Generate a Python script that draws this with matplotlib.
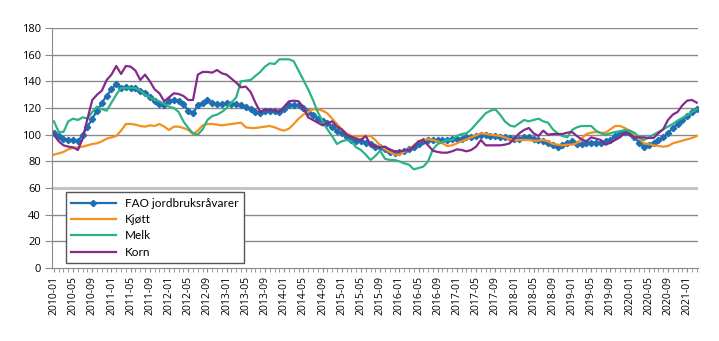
import numpy as np
import matplotlib
matplotlib.use("Agg")
import matplotlib.pyplot as plt

plt.rcParams['font.family'] = ['Open Sans', 'DejaVu Sans']

# monthly index values, 2010-01 .. 2021-03
fao = [101, 99, 97, 96, 96, 95, 100, 106, 112, 118, 124, 129, 134, 138, 135, 136, 135, 135, 133, 131,
       128, 125, 123, 122, 125, 126, 125, 123, 118, 116, 122, 124, 126, 124, 123, 123, 124, 123, 123, 122,
       121, 119, 117, 116, 118, 118, 118, 117, 119, 122, 122, 122, 120, 117, 115, 112, 110, 108.5, 106, 103,
       101, 98, 96, 95, 95, 94, 93, 90.5, 91, 89, 87, 86, 87, 88, 89, 91, 93, 95, 96, 96,
       96, 96, 96, 96.5, 97, 97, 98, 98, 99, 100, 100, 99, 99, 98.5, 98, 97.5, 97, 97, 98, 98,
       97, 96, 95, 93.5, 92.5, 91, 92, 93.5, 95, 93, 93, 94, 94, 94, 94, 95, 96, 99, 101, 102,
       101, 98, 94, 91, 92, 94, 96, 98, 101, 105, 108, 111, 114, 117, 119]
kjott = [85, 86, 87, 89, 90, 90.5, 91, 92, 93, 93.5, 95, 97, 98, 99, 103, 108, 108, 107.5, 106.5, 106,
         107, 106.5, 108, 106, 103.5, 106, 106, 105, 103.5, 100.5, 103, 107, 108, 108, 107.5, 107, 107.5, 108, 108.5, 109,
         105.5, 105, 105, 105.5, 106, 106.5, 105.5, 104, 103, 104.5, 108, 112, 115, 117, 119, 119, 118, 116, 112, 108,
         104, 101, 99, 98.5, 99, 99, 99, 96, 92, 89, 87, 85, 85, 87, 89, 92, 95, 96, 96.5, 96,
         95, 93.5, 91.5, 92, 93.5, 95, 96.5, 98, 99.5, 101, 100.5, 100, 99.5, 99, 98, 96.5, 96, 96, 96, 96,
         95.5, 95.5, 96, 95, 93, 92.5, 92, 92.5, 92.5, 93.5, 97, 100.5, 101.5, 102, 101.5, 101.5, 104, 106.5, 106.5, 105,
         103, 100, 97, 93.5, 93, 92, 91.5, 91, 91.5, 93.5, 94.5, 95.5, 96.5, 97.5, 99]
melk = [110, 102, 102, 110, 112, 111, 113, 112, 117, 121, 119, 118, 124, 130, 135, 135, 135, 135, 133, 130,
        128, 126, 125, 123, 121, 120, 117, 110, 105, 101, 100, 104, 111, 114, 115, 117, 120, 124, 128, 140,
        140.5, 141, 144, 147, 151, 153.5, 153, 156.5, 156.5, 156.5, 155, 148, 141, 134, 126, 117, 110, 104, 99, 93,
        95, 96, 95, 90.5, 88.5, 85, 81, 84, 88, 82, 81, 81, 80, 78.5, 77.5, 74, 75, 76, 80, 89,
        93, 94.5, 96, 96, 99, 100.5, 101, 104, 108, 112, 116, 118, 119, 115, 110, 107, 106, 108.5, 111, 110,
        111, 112, 110, 109, 104, 101, 99, 98, 103.5, 105.5, 106.5, 106.5, 106.5, 103, 101, 100, 101, 102, 102.5, 103.5,
        103, 101.5, 98, 96, 98, 100, 102, 104, 106, 108, 110.5, 112.5, 114.5, 117, 119]
korn = [100, 95, 92, 91, 90.5, 88.5, 97, 112, 126, 130, 133, 141, 145, 151.5, 145.5, 151.5, 151, 148, 141, 145,
        140, 134, 131, 125, 128, 131, 130.5, 129, 126, 126, 145, 147, 147, 146.5, 148.5, 146, 145, 142, 139, 135.5,
        136, 132, 124, 117, 119, 118.5, 118, 117, 121, 125, 125.5, 125, 120, 113, 111, 109, 107, 108.5, 110, 106,
        104, 100, 98.5, 97, 96, 99, 92.5, 91, 90.5, 91, 89, 87.5, 87.5, 88, 88.5, 91, 95, 96, 92, 88,
        87, 86.5, 86.5, 87.5, 89, 88.5, 87.5, 88.5, 91, 96, 92, 92, 92, 92, 92.5, 93.5, 97, 101, 103.5, 105,
        101, 99, 103, 100, 100.5, 100.5, 100.5, 101.5, 102, 99, 96.5, 95, 98, 97, 96, 92.5, 94, 96, 98, 101.5,
        100, 98, 98, 98, 97.5, 97.5, 101, 104, 111, 115, 117, 122, 125.5, 126, 124]

months = [f"{2010 + m // 12}-{m % 12 + 1:02d}" for m in range(len(fao))]

fig = plt.figure(figsize=(7.19, 3.41), dpi=100)
ax = fig.add_axes([0.0723, 0.214, 0.8981, 0.704])

x = np.arange(len(fao))
ax.plot(x, fao, color='#1d6fb1', lw=1.6, marker='D', markersize=3.2, label='FAO jordbruksråvarer')
ax.plot(x, kjott, color='#f4901e', lw=1.6, label='Kjøtt')
ax.plot(x, melk, color='#2bb387', lw=1.6, label='Melk')
ax.plot(x, korn, color='#832a8a', lw=1.6, label='Korn')

ax.set_ylim(0, 180)
ax.set_xlim(-0.4, len(fao) - 0.8)
ax.set_yticks(range(0, 181, 20))
for v in range(20, 181, 20):
    if v == 60:
        ax.axhline(v, color='#c4c4c4', lw=2.2, zorder=0)
    else:
        ax.axhline(v, color='#8a8a8a', lw=1.0, zorder=0)

ax.set_xticks(x[::4])
ax.set_xticklabels(months[::4], rotation=90)
ax.set_xticks(x, minor=True)
ax.tick_params(axis='x', which='both', length=3, color='#8a8a8a', labelsize=7.5, pad=3)
ax.tick_params(axis='y', length=5, color='#8a8a8a', labelsize=8, pad=3)

for s in ['top', 'right']:
    ax.spines[s].set_visible(False)
ax.spines['left'].set_color('#8a8a8a')
ax.spines['bottom'].set_color('#8a8a8a')

leg = ax.legend(loc='lower left', bbox_to_anchor=(0.021, 0.021), borderaxespad=0,
                prop={'family': ['Lato', 'DejaVu Sans'], 'size': 8.5},
                frameon=True, fancybox=False, edgecolor='#555555', framealpha=1,
                handlelength=3.8, labelspacing=0.45, borderpad=0.45, handletextpad=0.8)
leg.get_frame().set_linewidth(1.0)

fig.savefig('out.png', dpi=100)
